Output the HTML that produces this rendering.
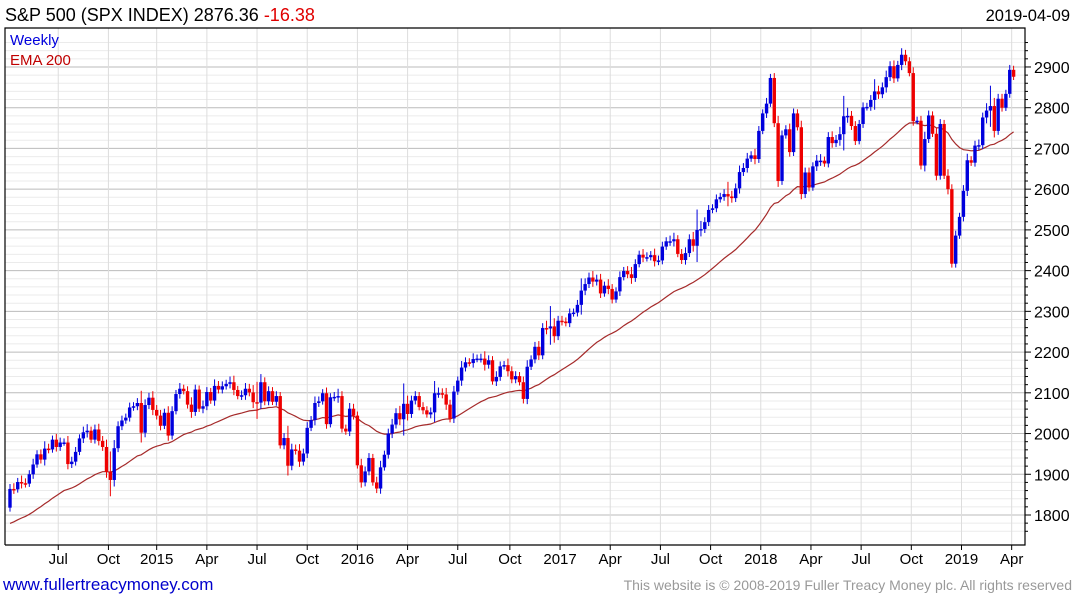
<!DOCTYPE html>
<html><head><meta charset="utf-8"><style>
body{margin:0;background:#fff;width:1075px;height:600px;overflow:hidden;font-family:"Liberation Sans",sans-serif}
svg{display:block}
</style></head><body>
<svg id="c" width="1075" height="600" font-family="Liberation Sans, sans-serif">
<text x="5" y="21" font-size="18" fill="#000">S&amp;P 500 (SPX INDEX) 2876.36 <tspan fill="#e00000">-16.38</tspan></text>
<text x="1070" y="21" font-size="16.5" text-anchor="end" fill="#000">2019-04-09</text>
<g id="grid"></g><g id="ema"></g><g id="bars"></g><g id="axes"></g>
<text x="10" y="45" font-size="15" fill="#0000dd">Weekly</text>
<text x="10" y="65" font-size="15" fill="#c00000">EMA 200</text>
<text x="3" y="590" font-size="17" fill="#0000cc">www.fullertreacymoney.com</text>
<text x="1072" y="590" font-size="14" text-anchor="end" fill="#999">This website is © 2008-2019 Fuller Treacy Money plc. All rights reserved</text>
</svg>
<script>
const closes=[1864,1863,1881,1878,1877,1900,1924,1949,1936,1963,1961,1985,1967,1978,1978,1925,1931,1955,1988,2003,2007,1985,2010,1982,1967,1906,1886,1964,2018,2032,2039,2064,2067,2075,2002,2070,2088,2058,
2044,2019,2051,1995,2055,2097,2110,2104,2071,2053,2108,2061,2067,2102,2081,2117,2108,2116,2122,2126,2107,2092,2094,2110,2101,2077,2076,2126,2079,2104,2078,2092,1971,1989,1921,1961,1958,1931,1951,2014,2033,2075,2079,2099,2023,2089,2090,2092,2012,2005,2061,2044,
1922,1880,1907,1940,1880,1865,1917,1948,2000,2022,2050,2035,2073,2048,2081,2092,2065,2057,2047,2052,2099,2099,2096,2071,2037,2103,2130,2162,2175,2173,2183,2184,2184,2169,2180,2128,2139,2165,2168,2153,2133,2141,2126,2085,2164,2182,2213,2192,2259,2258,2263,2239,
2277,2275,2271,2295,2297,2316,2351,2367,2383,2373,2378,2344,2363,2355,2329,2349,2384,2399,2391,2382,2416,2439,2432,2433,2438,2423,2425,2459,2472,2472,2477,2441,2426,2443,2477,2461,2500,2502,2519,2549,2553,2575,2581,2588,2582,2578,2602,2642,2652,2675,2683,2674,
2743,2786,2810,2873,2762,2620,2732,2747,2691,2786,2752,2588,2641,2604,2656,2670,2670,2663,2728,2713,2721,2735,2779,2780,2755,2718,2760,2801,2802,2819,2840,2833,2850,2875,2902,2872,2905,2930,2914,2885,2767,2768,2658,2723,2781,2736,2633,2760,2633,2600,2417,2486,
2532,2596,2671,2665,2707,2708,2776,2793,2804,2743,2822,2800,2834,2893,2876];
const firstOpen=1818;
const wick=[12,14,10,16,12,10,14,10,12,18,12,10,14,12,10,16,12,12,10,14,16,10,12,14,12,18,50,20,12,12,10,12,10,12,30,14,12,16];
const emaStart=1775;
const yTicks=[1800,1900,2000,2100,2200,2300,2400,2500,2600,2700,2800,2900];
const xLabels=["Jul","Oct","2015","Apr","Jul","Oct","2016","Apr","Jul","Oct","2017","Apr","Jul","Oct","2018","Apr","Jul","Oct","2019","Apr"];
const xLabelWeeks=[12.5,25.5,38,51,64,77,90,103,116,129.5,142.5,155.5,168.5,181.5,194.5,207.5,220.5,233.5,246.5,259.5];

const L=5,R=1025,T=28,B=545;
const X=i=>10+i*3.86;
const Y=p=>515-(p-1800)*0.4073;
const ns="http://www.w3.org/2000/svg";
function mk(tag,a,parent){const e=document.createElementNS(ns,tag);for(const k in a)e.setAttribute(k,a[k]);document.getElementById(parent).appendChild(e);return e;}

for(let p=1760;p<=2960;p+=20){const y=Y(p);if(y<T||y>B)continue;
 const major=p%100===0;
 const g=mk('line',{x1:L,x2:R,y1:y,y2:y,stroke:major?'#bbb':'#ebebeb','stroke-width':1},'grid');
 
 
 const t=mk('line',{x1:R,x2:R+(major?6:3),y1:y,y2:y,stroke:'#000'},'axes');
 
 
}
yTicks.forEach(p=>{const t=mk('text',{x:R+9,y:Y(p)+6,'font-size':16,fill:'#000'},'axes');t.textContent=p;
 
 });
xLabels.forEach((lab,k)=>{const x=X(xLabelWeeks[k]);
 const g=mk('line',{x1:x,x2:x,y1:T,y2:B,stroke:'#ddd'},'grid');
 
 
 const tk=mk('line',{x1:x,x2:x,y1:B,y2:B+5,stroke:'#000'},'axes');
 
 
 const t=mk('text',{x:x,y:B+19,'font-size':15,'text-anchor':'middle',fill:'#000'},'axes');t.textContent=lab;
 
 });
const fr=mk('path',{d:`M${L},${B}V${T}H${R}V${B}H${L}`,fill:'none',stroke:'#000','stroke-width':1.2},'axes');



let prev=firstOpen;
closes.forEach((c,i)=>{const o=prev;prev=c;const w=wick[i%wick.length];
 const hi=Math.max(o,c)+w,lo=Math.min(o,c)-w*0.8;const col=c>=o?'#0000dd':'#ee0000';const x=X(i);
 const l=mk('line',{x1:x,x2:x,y1:Y(hi),y2:Y(lo),stroke:col,'stroke-width':1},'bars');
 
 
 const top=Y(Math.max(o,c)),h=Math.max(1.5,Y(Math.min(o,c))-top);
 const r=mk('rect',{x:x-1.7,y:top,width:3.4,height:h,fill:col},'bars');
 
 
});
let e=emaStart,pts=[];const a=2/41;
closes.forEach((c,i)=>{e=e+a*(c-e);pts.push(X(i).toFixed(1)+','+Y(e).toFixed(1));});
const pl=mk('polyline',{points:pts.join(' '),fill:'none',stroke:'#a52a2a','stroke-width':1.2},'ema');


</script>
</body></html>
